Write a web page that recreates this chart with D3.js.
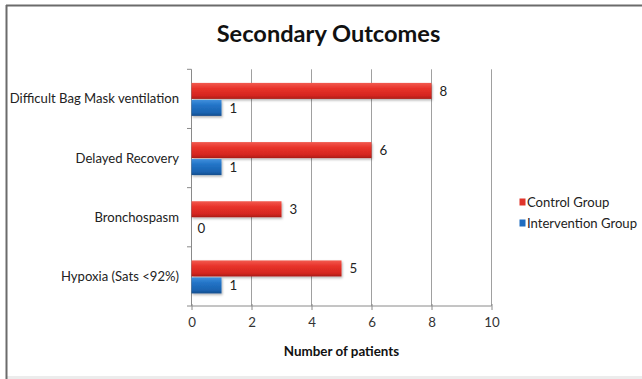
<!DOCTYPE html>
<html><head><meta charset="utf-8">
<script src="https://cdn.jsdelivr.net/npm/d3@7"></script>
<style>body{margin:0;background:#fff}svg{display:block}</style>
</head><body><svg id="c" width="642" height="379"></svg>
<script>
const categories = ["Difficult Bag Mask ventilation","Delayed Recovery","Bronchospasm","Hypoxia (Sats <92%)"];
const controlGroup = [8, 6, 3, 5];
const interventionGroup = [1, 1, 0, 1];
const seriesNames = ["Control Group","Intervention Group"];
const xTicks = [0,2,4,6,8,10];

const svg = d3.select("#c");
const W = 642, H = 379;
const font = "Lato, 'Open Sans', sans-serif";

// background / frame
svg.append("rect").attr("x",0).attr("y",0).attr("width",W).attr("height",H).attr("fill","#fff");
svg.append("rect").attr("x",6).attr("y",376).attr("width",W-6).attr("height",3).attr("fill","#ececec");
svg.append("line").attr("x1",6).attr("x2",W).attr("y1",5.5).attr("y2",5.5).attr("stroke","#6b6b6b").attr("stroke-width",2);
svg.append("line").attr("x1",6.5).attr("x2",6.5).attr("y1",5).attr("y2",H).attr("stroke","#6b6b6b").attr("stroke-width",2);

const defs = svg.append("defs");
function grad(id, stops){
  const g = defs.append("linearGradient").attr("id",id).attr("x1",0).attr("x2",0).attr("y1",0).attr("y2",1);
  stops.forEach(s=>g.append("stop").attr("offset",s[0]).attr("stop-color",s[1]));
}
grad("gRed",[[0,"#f25a4f"],[0.35,"#e8332a"],[0.8,"#d4261f"],[1,"#a81c17"]]);
grad("gBlue",[[0,"#3f8fdc"],[0.35,"#2273c6"],[0.8,"#1b63b0"],[1,"#134d8c"]]);
const f = defs.append("filter").attr("id","sh").attr("x","-5%").attr("y","-20%").attr("width","115%").attr("height","160%");
f.append("feDropShadow").attr("dx",1).attr("dy",1.5).attr("stdDeviation",1).attr("flood-color","#000").attr("flood-opacity",0.3);

const x = d3.scaleLinear().domain([0,10]).range([191.5,491.5]);
const y = d3.scaleBand().domain(categories).range([69.3,306]).padding(0);
const barH = 16, off = 13.6;

// gridlines
svg.append("g").selectAll("line").data(xTicks.slice(1)).join("line")
  .attr("x1",d=>x(d)).attr("x2",d=>x(d)).attr("y1",69.3).attr("y2",306)
  .attr("stroke","#a0a0a0").attr("stroke-width",1);

// x axis
const xa = svg.append("g").attr("transform","translate(0,306)")
  .call(d3.axisBottom(x).tickValues(xTicks).tickSize(4).tickPadding(8).tickFormat(d3.format("d")));
xa.select(".domain").attr("stroke","#8a8a8a").attr("d","M191.5,0H491.5");
xa.selectAll(".tick line").attr("stroke","#8a8a8a").attr("y1",-2);
xa.selectAll("text").attr("font-family",font).attr("font-size",13.3).attr("fill","#333");

// y axis
const yTickPos = categories.map(c=>y(c)).concat([306]);
svg.append("line").attr("x1",191.5).attr("x2",191.5).attr("y1",69.3).attr("y2",306).attr("stroke","#8a8a8a");
svg.append("g").selectAll("line").data(yTickPos).join("line")
  .attr("x1",187).attr("x2",191.5).attr("y1",d=>d).attr("y2",d=>d).attr("stroke","#8a8a8a");
svg.append("g").selectAll("text").data(categories).join("text")
  .attr("x",179).attr("y",d=>y(d)+y.bandwidth()/2).attr("dy","0.35em")
  .attr("text-anchor","end").attr("font-family",font).attr("font-size",13.1).attr("fill","#222")
  .text(d=>d);

// bars
const rows = categories.map((c,i)=>({c, vals:[controlGroup[i], interventionGroup[i]]}));
const fills = ["url(#gRed)","url(#gBlue)"];
rows.forEach(r=>{
  r.vals.forEach((v,j)=>{
    const y0 = y(r.c) + off + j*(barH+1);
    if (v>0) svg.append("rect").attr("x",x(0)).attr("y",y0).attr("width",x(v)-x(0)).attr("height",barH)
      .attr("fill",fills[j]).attr("filter","url(#sh)");
    svg.append("text").attr("x",x(v)+ (v>0?8:6)).attr("y",y0+barH/2+ (v>0?0:2)).attr("dy","0.35em")
      .attr("font-family",font).attr("font-size",13.3).attr("fill","#222").text(v);
  });
});

// title
svg.append("text").attr("x",328.5).attr("y",42).attr("text-anchor","middle")
  .attr("font-family",font).attr("font-weight","bold").attr("font-size",23.6).attr("fill","#111")
  .text("Secondary Outcomes");

// x title
svg.append("text").attr("x",341.5).attr("y",356).attr("text-anchor","middle")
  .attr("font-family",font).attr("font-weight","bold").attr("font-size",13.4).attr("fill","#111")
  .text("Number of patients");

// legend
const lg = svg.append("g");
const legColors = ["#e0342b","#1f6cc0"];
seriesNames.forEach((s,i)=>{
  const ly = 202 + i*21;
  lg.append("rect").attr("x",519.5).attr("y",ly-3.5).attr("width",6).attr("height",7).attr("fill",legColors[i]);
  lg.append("text").attr("x",527).attr("y",ly).attr("dy","0.35em")
    .attr("font-family",font).attr("font-size",13.1).attr("fill","#222").text(s);
});
</script></body></html>
